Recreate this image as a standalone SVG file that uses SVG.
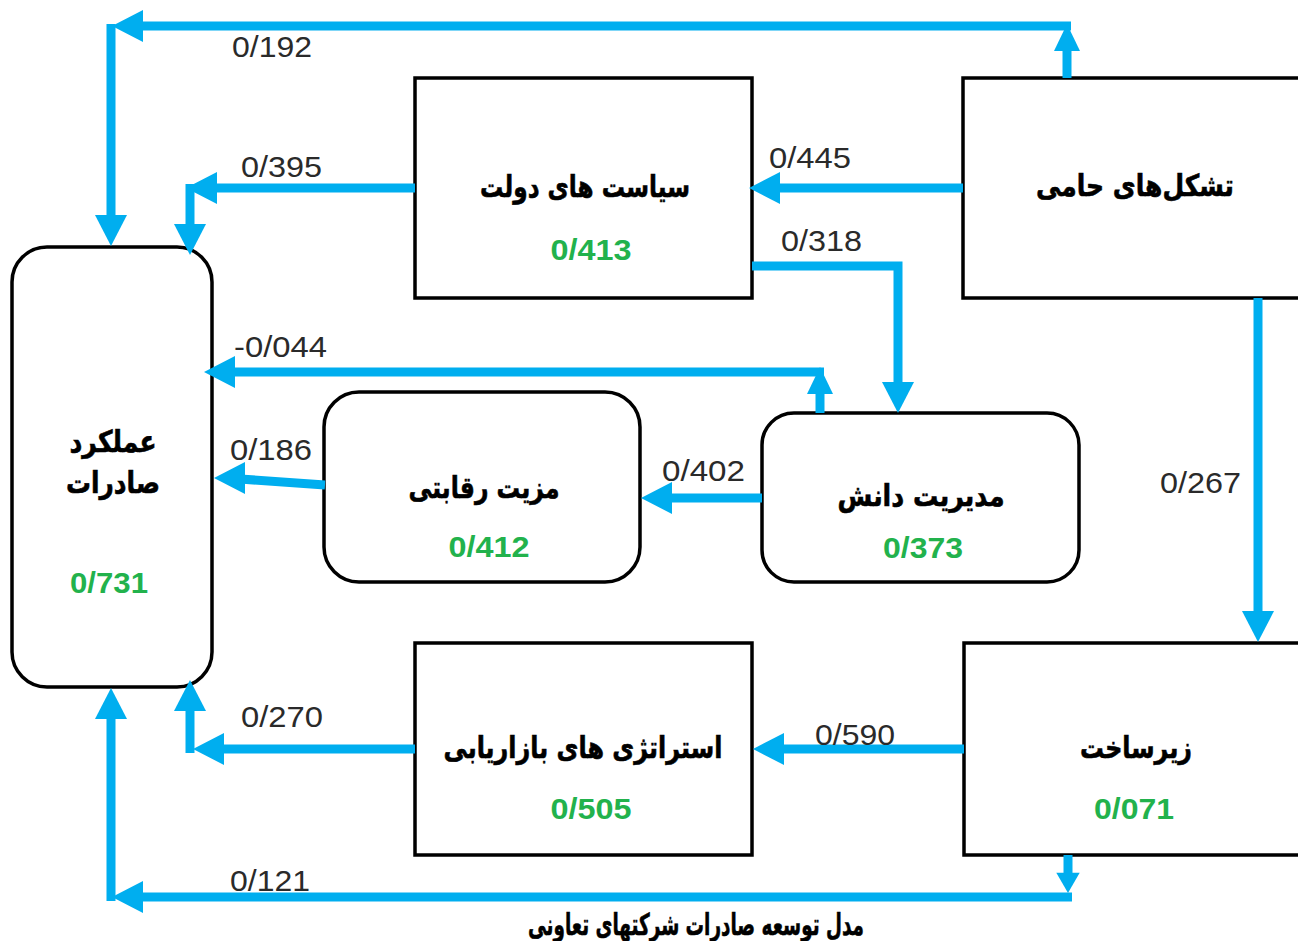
<svg xmlns="http://www.w3.org/2000/svg" width="1298" height="941" viewBox="0 0 1298 941">
<style>
.box{fill:#fff;stroke:#000;stroke-width:3.5}
.fa{font-family:"DejaVu Sans",sans-serif;font-weight:bold;font-size:30px;fill:#000;text-anchor:middle;stroke:#000;stroke-width:0.6}
.val{font-family:"Liberation Sans",Arial,sans-serif;font-weight:bold;font-size:30px;fill:#22B24C;text-anchor:middle}
.lbl{font-family:"Liberation Sans",Arial,sans-serif;font-size:30px;fill:#2a2a2a}
.ln{fill:none;stroke:#00AEEF;stroke-width:9;stroke-linejoin:miter;stroke-linecap:butt}
.ah{fill:#00AEEF}
</style>
<defs>
<path id="big" d="M0,0 L-31,-16 L-31,16 Z"/>
<path id="sm" d="M0,0 L-27,-13 L-27,13 Z"/>
</defs>
<rect width="1298" height="941" fill="#fff"/>

<g id="n-export">
<rect class="box" x="12" y="247" width="200" height="440" rx="35"/>
<text class="fa" x="113" y="452" font-size="28" textLength="87" lengthAdjust="spacingAndGlyphs">عملکرد</text>
<text class="fa" x="113" y="493" font-size="28" textLength="94" lengthAdjust="spacingAndGlyphs">صادرات</text>
<text class="val" x="109" y="593" textLength="78" lengthAdjust="spacingAndGlyphs">0/731</text>
</g>

<g id="n-gov">
<rect class="box" x="415" y="78" width="337" height="220"/>
<text class="fa" x="585" y="197" textLength="210" lengthAdjust="spacingAndGlyphs">سیاست های دولت</text>
<text class="val" x="591" y="260" textLength="81" lengthAdjust="spacingAndGlyphs">0/413</text>
</g>

<g id="n-support">
<rect class="box" x="963" y="78" width="360" height="220"/>
<text class="fa" x="1135" y="196" textLength="198" lengthAdjust="spacingAndGlyphs">تشکل&#8204;های حامی</text>
</g>

<g id="n-knowledge">
<rect class="box" x="762" y="413" width="317" height="169" rx="32"/>
<text class="fa" x="921" y="506" textLength="167" lengthAdjust="spacingAndGlyphs">مدیریت دانش</text>
<text class="val" x="923" y="558" textLength="80" lengthAdjust="spacingAndGlyphs">0/373</text>
</g>

<g id="n-competitive">
<rect class="box" x="324" y="392" width="316" height="190" rx="35"/>
<text class="fa" x="484" y="498" textLength="151" lengthAdjust="spacingAndGlyphs">مزیت رقابتی</text>
<text class="val" x="489" y="557" textLength="81" lengthAdjust="spacingAndGlyphs">0/412</text>
</g>

<g id="n-marketing">
<rect class="box" x="415" y="643" width="337" height="212"/>
<text class="fa" x="583" y="758" textLength="279" lengthAdjust="spacingAndGlyphs">استراتژی های بازاریابی</text>
<text class="val" x="591" y="819" textLength="81" lengthAdjust="spacingAndGlyphs">0/505</text>
</g>

<g id="n-infra">
<rect class="box" x="964" y="643" width="360" height="212"/>
<text class="fa" x="1136" y="758" textLength="112" lengthAdjust="spacingAndGlyphs">زیرساخت</text>
<text class="val" x="1134" y="819" textLength="80" lengthAdjust="spacingAndGlyphs">0/071</text>
</g>

<g id="connectors">
<!-- 0/192 -->
<path class="ln" d="M1067,78 V45"/>
<use href="#sm" class="ah" transform="translate(1067,24) rotate(-90)"/>
<path class="ln" d="M1071,26 H140"/>
<use href="#big" class="ah" transform="translate(112,26) rotate(180)"/>
<path class="ln" d="M111,24 V222"/>
<use href="#big" class="ah" transform="translate(111,246) rotate(90)"/>
<!-- 0/395 -->
<path class="ln" d="M415,188 H215"/>
<use href="#big" class="ah" transform="translate(186,188) rotate(180)"/>
<path class="ln" d="M190,184 V230"/>
<use href="#big" class="ah" transform="translate(190,255) rotate(90)"/>
<!-- 0/445 -->
<path class="ln" d="M963,188 H775"/>
<use href="#big" class="ah" transform="translate(749,188) rotate(180)"/>
<!-- 0/318 -->
<path class="ln" d="M752,266 H898 V386"/>
<use href="#big" class="ah" transform="translate(898,413) rotate(90)"/>
<!-- -0/044 -->
<path class="ln" d="M820,413 V392"/>
<use href="#sm" class="ah" transform="translate(820,367) rotate(-90)"/>
<path class="ln" d="M824,372 H230"/>
<use href="#big" class="ah" transform="translate(204,372) rotate(180)"/>
<!-- 0/186 -->
<path class="ln" d="M325,485 L240,479"/>
<use href="#big" class="ah" transform="translate(214,478) rotate(180)"/>
<!-- 0/402 -->
<path class="ln" d="M762,498 H668"/>
<use href="#big" class="ah" transform="translate(641,498) rotate(180)"/>
<!-- 0/267 -->
<path class="ln" d="M1258,298 V615"/>
<use href="#big" class="ah" transform="translate(1258,642) rotate(90)"/>
<!-- 0/590 -->
<path class="ln" d="M964,749 H780"/>
<use href="#big" class="ah" transform="translate(753,749) rotate(180)"/>
<!-- 0/270 -->
<path class="ln" d="M415,749 H220"/>
<use href="#big" class="ah" transform="translate(193,749) rotate(180)"/>
<path class="ln" d="M190,753 V705"/>
<use href="#big" class="ah" transform="translate(190,680) rotate(-90)"/>
<!-- 0/121 -->
<path class="ln" d="M1068,855 V876"/>
<use href="#sm" class="ah" transform="translate(1068,893) rotate(90) scale(0.75,0.9)"/>
<path class="ln" d="M1072,897 H140"/>
<use href="#big" class="ah" transform="translate(112,897) rotate(180)"/>
<path class="ln" d="M111,901 V716"/>
<use href="#big" class="ah" transform="translate(111,688) rotate(-90)"/>
</g>

<g id="labels">
<text class="lbl" x="232" y="57" textLength="80" lengthAdjust="spacingAndGlyphs">0/192</text>
<text class="lbl" x="241" y="177" textLength="81" lengthAdjust="spacingAndGlyphs">0/395</text>
<text class="lbl" x="769" y="168" textLength="82" lengthAdjust="spacingAndGlyphs">0/445</text>
<text class="lbl" x="781" y="251" textLength="81" lengthAdjust="spacingAndGlyphs">0/318</text>
<text class="lbl" x="234" y="357" textLength="93" lengthAdjust="spacingAndGlyphs">-0/044</text>
<text class="lbl" x="230" y="460" textLength="82" lengthAdjust="spacingAndGlyphs">0/186</text>
<text class="lbl" x="662" y="481" textLength="83" lengthAdjust="spacingAndGlyphs">0/402</text>
<text class="lbl" x="1160" y="493" textLength="81" lengthAdjust="spacingAndGlyphs">0/267</text>
<text class="lbl" x="241" y="727" textLength="82" lengthAdjust="spacingAndGlyphs">0/270</text>
<text class="lbl" x="815" y="745" textLength="80" lengthAdjust="spacingAndGlyphs">0/590</text>
<text class="lbl" x="230" y="891" textLength="80" lengthAdjust="spacingAndGlyphs">0/121</text>
</g>

<text class="fa" x="696" y="935" font-size="23" textLength="336" lengthAdjust="spacingAndGlyphs">مدل توسعه صادرات شرکتهای تعاونی</text>
</svg>
